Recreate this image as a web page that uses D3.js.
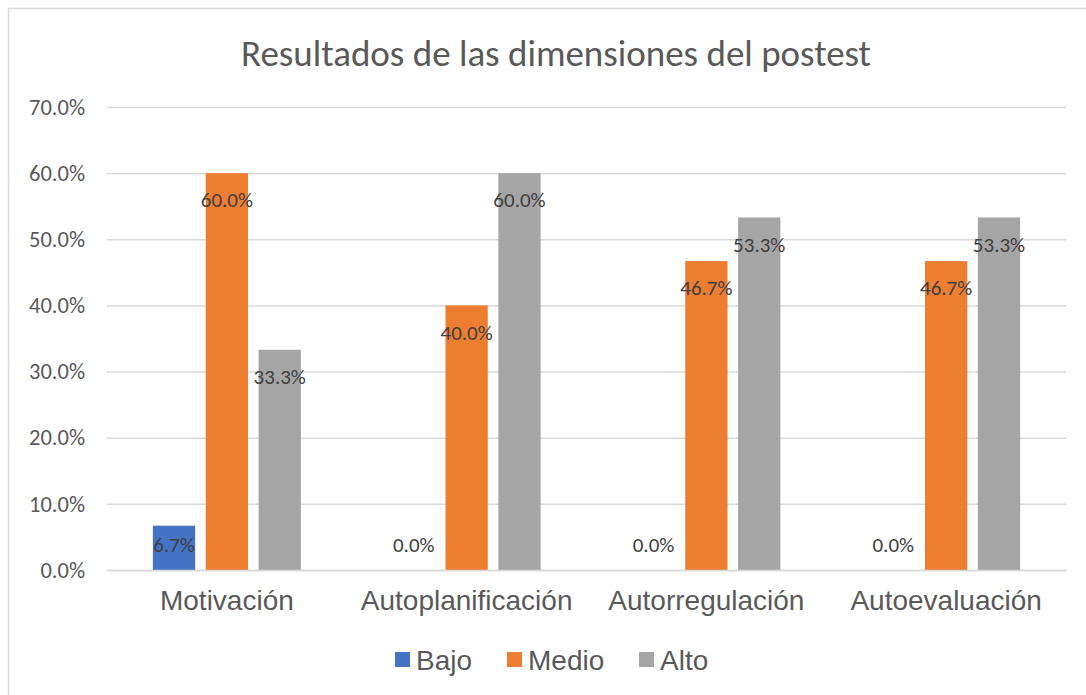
<!DOCTYPE html>
<html>
<head>
<meta charset="utf-8">
<script src="https://cdn.jsdelivr.net/npm/d3@7"></script>
<style>
body { margin: 0; background: #fff; }
</style>
</head>
<body>
<script>
// chart data
var categories = ["Motivación", "Autoplanificación", "Autorregulación", "Autoevaluación"];
var seriesNames = ["Bajo", "Medio", "Alto"];
var bajo = [6.7, 0.0, 0.0, 0.0];
var medio = [60.0, 40.0, 46.7, 46.7];
var alto = [33.3, 60.0, 53.3, 53.3];
var yTicks = [0, 10, 20, 30, 40, 50, 60, 70];

var colors = ["#4472C4", "#ED7D31", "#A5A5A5"];
var values = [bajo, medio, alto];

var svg = d3.select("body").append("svg")
    .attr("width", 1086)
    .attr("height", 695)

// outer border
svg.append("rect")
    .attr("x", 8.5).attr("y", 8.5)
    .attr("width", 1100).attr("height", 700)
    .attr("fill", "#fff")
    .attr("stroke", "#D9D9D9")
    .attr("stroke-width", 1.5)

var plotLeft = 107, plotRight = 1066, plotTop = 107, plotBottom = 570;

var y = d3.scaleLinear().domain([0, 70]).range([plotBottom, plotTop])
var x0 = d3.scaleBand().domain(categories).range([plotLeft, plotRight])
var x1 = d3.scaleBand().domain(seriesNames).range([0, 148]).paddingInner(0.2)

// title
svg.append("text")
    .attr("x", 556).attr("y", 66)
    .attr("text-anchor", "middle")
    .attr("font-family", "Carlito, Calibri, Lato, sans-serif")
    .attr("font-size", 37)
    .attr("fill", "#595959")
    .text("Resultados de las dimensiones del postest")

// gridlines + y labels
var yAxis = svg.append("g")
    .attr("transform", "translate(" + plotLeft + ",0)")
    .call(d3.axisLeft(y).tickValues(yTicks).tickSize(-(plotRight - plotLeft)).tickPadding(22)
        .tickFormat(function (d) { return d.toFixed(1) + "%"; }))
yAxis.select(".domain").remove()
yAxis.selectAll("line").attr("stroke", "#D9D9D9").attr("stroke-width", 1.5)
yAxis.selectAll("text")
    .attr("font-family", "Carlito, Calibri, Lato, sans-serif")
    .attr("font-size", 22.5)
    .attr("fill", "#595959")

// bars
categories.forEach(function (c, ci) {
    var gx = x0(c) + x0.bandwidth() / 2 - 74;
    seriesNames.forEach(function (s, si) {
        var v = values[si][ci];
        var bx = gx + x1(s);
        svg.append("rect")
            .attr("x", bx)
            .attr("y", y(v))
            .attr("width", x1.bandwidth())
            .attr("height", plotBottom - y(v))
            .attr("fill", colors[si])
        var ly = Math.min(y(v) + 27, plotBottom - 25);
        svg.append("text")
            .attr("x", bx + x1.bandwidth() / 2)
            .attr("y", ly)
            .attr("dy", "0.35em")
            .attr("text-anchor", "middle")
            .attr("font-family", "Carlito, Calibri, Lato, sans-serif")
            .attr("font-size", 21)
            .attr("fill", "#404040")
            .text(v.toFixed(1) + "%")
    })
})

// category labels
var xAxis = svg.append("g")
    .attr("transform", "translate(0," + plotBottom + ")")
    .call(d3.axisBottom(x0).tickSize(0).tickPadding(20))
xAxis.select(".domain").attr("stroke", "#D9D9D9").attr("stroke-width", 1.5)
xAxis.selectAll("text")
    .attr("font-family", "'Liberation Sans', Arial, sans-serif")
    .attr("font-size", 28)
    .attr("fill", "#595959")

// legend
var legendX = [395, 507, 639];
seriesNames.forEach(function (s, i) {
    svg.append("rect")
        .attr("x", legendX[i]).attr("y", 652)
        .attr("width", 15).attr("height", 15)
        .attr("fill", colors[i])
    svg.append("text")
        .attr("x", legendX[i] + 21).attr("y", 660)
        .attr("dy", "0.35em")
        .attr("font-family", "'Liberation Sans', Arial, sans-serif")
        .attr("font-size", 28)
        .attr("fill", "#595959")
        .text(s)
})
</script>
</body>
</html>
